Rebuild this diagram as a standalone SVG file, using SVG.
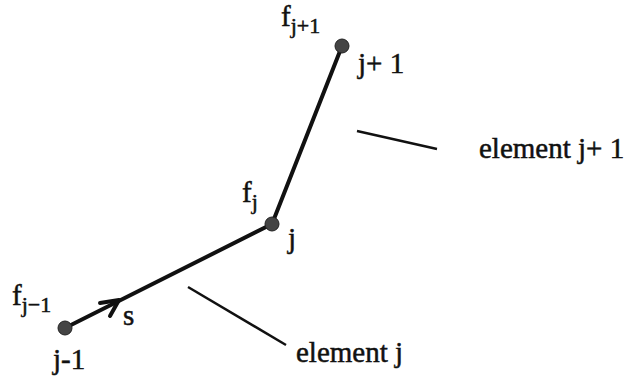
<svg xmlns="http://www.w3.org/2000/svg" width="636" height="379" viewBox="0 0 636 379">
<style>
text{font-family:"Liberation Serif","Times New Roman",serif;font-size:29px;fill:#111;stroke:#111;stroke-width:0.5}
.sub{font-size:22px}
.edge{stroke:#111;stroke-width:4;fill:none;stroke-linecap:round;stroke-linejoin:round}
.lead{stroke:#111;stroke-width:2.5;fill:none}
.node{fill:#444;stroke:#222;stroke-width:1}
</style>
<rect width="636" height="379" fill="#fff"/>
<g id="connectors">
<line class="edge" x1="65" y1="328" x2="272" y2="224"/>
<line class="edge" x1="272" y1="224" x2="342" y2="46"/>
<polyline class="edge" points="100,303 119,300 110,316" stroke-width="3"/>
<line class="lead" x1="188" y1="287" x2="286" y2="345"/>
<line class="lead" x1="357" y1="131" x2="437" y2="149"/>
</g>
<g id="node-jm1">
<circle class="node" cx="65" cy="328" r="7"/>
<text x="12" y="305">f<tspan class="sub" dy="7">j−1</tspan></text>
<text x="53" y="369">j-1</text>
</g>
<g id="node-j">
<circle class="node" cx="272" cy="224" r="7"/>
<text x="242" y="202">f<tspan class="sub" dy="7">j</tspan></text>
<text x="288" y="248">j</text>
</g>
<g id="node-jp1">
<circle class="node" cx="342" cy="46" r="7"/>
<text x="281" y="26">f<tspan class="sub" dy="7">j+1</tspan></text>
<text x="358" y="73">j+ 1</text>
</g>
<g id="labels">
<text x="123" y="325">s</text>
<text x="296" y="362">element j</text>
<text x="479" y="158">element j+ 1</text>
</g>
</svg>
